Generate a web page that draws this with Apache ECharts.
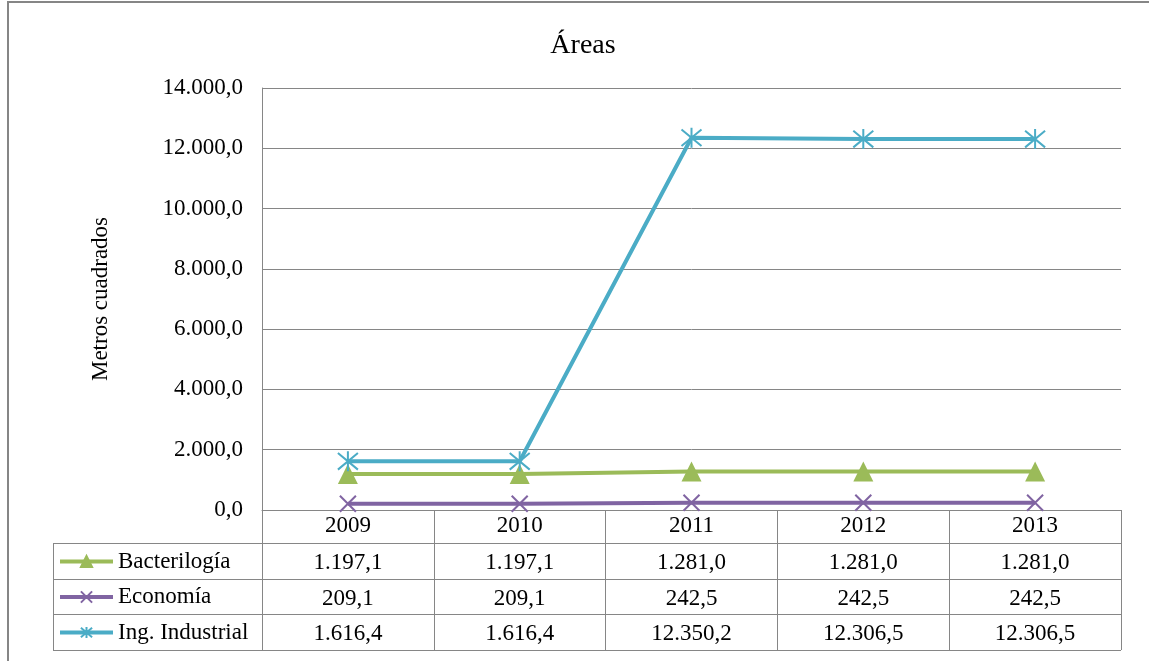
<!DOCTYPE html>
<html><head><meta charset="utf-8">
<script src="https://cdn.jsdelivr.net/npm/echarts@6/dist/echarts.min.js"></script>
<style>html,body{margin:0;padding:0;background:#fff}#c{width:1149px;height:661px}</style>
</head><body><div id="c"></div>
<script>
const years = ['2009','2010','2011','2012','2013'];
const bacteriologia = [1197.1, 1197.1, 1281.0, 1281.0, 1281.0];
const economia = [209.1, 209.1, 242.5, 242.5, 242.5];
const ingIndustrial = [1616.4, 1616.4, 12350.2, 12306.5, 12306.5];
const seriesNames = ['Bacterilogía', 'Economía', 'Ing. Industrial'];
const seriesColors = ['#9BBB59', '#8064A2', '#4BACC6'];
const titleText = 'Áreas';
const yName = 'Metros cuadrados';

function fmt(v){
  const parts = v.toFixed(1).split('.');
  const int = parts[0].replace(/\B(?=(\d{3})+(?!\d))/g, '.');
  return int + ',' + parts[1];
}
const FONT = '"Liberation Serif", "Times New Roman", serif';
const FS = 23;
const chart = echarts.init(document.getElementById('c'));
const G = {left:262, right:28, top:88, bottom:151};
const rowH = 35.5;
const allData = [bacteriologia, economia, ingIndustrial];
const xAxes = [{
  type:'category', data: years, boundaryGap:true, gridIndex:0,
  axisLine:{show:true, lineStyle:{color:'#868686', width:1}},
  axisTick:{show:true, interval:0, length:140, inside:false, lineStyle:{color:'#868686'}},
  axisLabel:{color:'#000', fontFamily:FONT, fontSize:FS, margin:4}
}];
allData.forEach((arr,i)=>{
  xAxes.push({
    type:'category', data: arr.map(fmt), boundaryGap:true, position:'bottom', offset: rowH*(i+1),
    axisLine:{show:false}, axisTick:{show:false}, splitLine:{show:false},
    axisLabel:{color:'#000', fontFamily:FONT, fontSize:FS, margin:6, interval:0}
  });
});
const symbols = ['triangle', 'path://M0,0L10,10M10,0L0,10', 'path://M0,0L10,10M10,0L0,10M5,-1L5,11'];
const symSizes = [20, 16, 20];
const series = allData.map((arr,i)=>({
  name: seriesNames[i], type:'line', data: arr, xAxisIndex:0,
  symbol: symbols[i], symbolSize: symSizes[i],
  lineStyle:{color: seriesColors[i], width:4},
  itemStyle:{color: seriesColors[i], borderColor: seriesColors[i], borderWidth: i===0?0:2},
  z: 3+i
}));
const tableTop = 510, tableLeft = 53, tableRight = 1121;
const graphics = [
  {type:'rect', shape:{x:8,y:2,width:1300,height:800}, style:{fill:'none', stroke:'#868686', lineWidth:2}, silent:true}
];
for (let r=1;r<=4;r++){
  const y = tableTop + 33 + (r-1)*rowH;
  graphics.push({type:'line', shape:{x1:tableLeft, y1:Math.round(y)+0.5, x2:tableRight, y2:Math.round(y)+0.5}, style:{stroke:'#868686', lineWidth:1}, silent:true});
}
graphics.push({type:'line', shape:{x1:tableLeft+0.5, y1:543, x2:tableLeft+0.5, y2:650}, style:{stroke:'#868686', lineWidth:1}, silent:true});
graphics.push({type:'line', shape:{x1:262.5, y1:510, x2:262.5, y2:650}, style:{stroke:'#868686', lineWidth:1}, silent:true});

chart.setOption({
  animation:false,
  title:{text:titleText, left:578, textAlign:'center', top:27, textStyle:{fontFamily:FONT, fontSize:28, fontWeight:'normal', color:'#000'}},
  grid:G,
  legend:{
    orient:'vertical', left:58, top:550, padding:0, itemWidth:53, itemHeight:14, itemGap:12.5,
    data: seriesNames, textStyle:{fontFamily:FONT, fontSize:FS, lineHeight:23, color:'#000'},
    lineStyle:{width:4}, itemStyle:{borderWidth:2}
  },
  xAxis: xAxes,
  yAxis:{type:'value', min:0, max:14000, interval:2000, name:yName, nameLocation:'middle', nameGap:150,
    nameTextStyle:{fontFamily:FONT, fontSize:FS, color:'#000'},
    axisLine:{show:true, lineStyle:{color:'#868686'}}, axisTick:{show:false},
    axisLabel:{color:'#000', fontFamily:FONT, fontSize:FS, margin:19, formatter:v=>fmt(v)},
    splitLine:{lineStyle:{color:'#868686', width:1}}},
  series: series,
  graphic: graphics
});
</script></body></html>
